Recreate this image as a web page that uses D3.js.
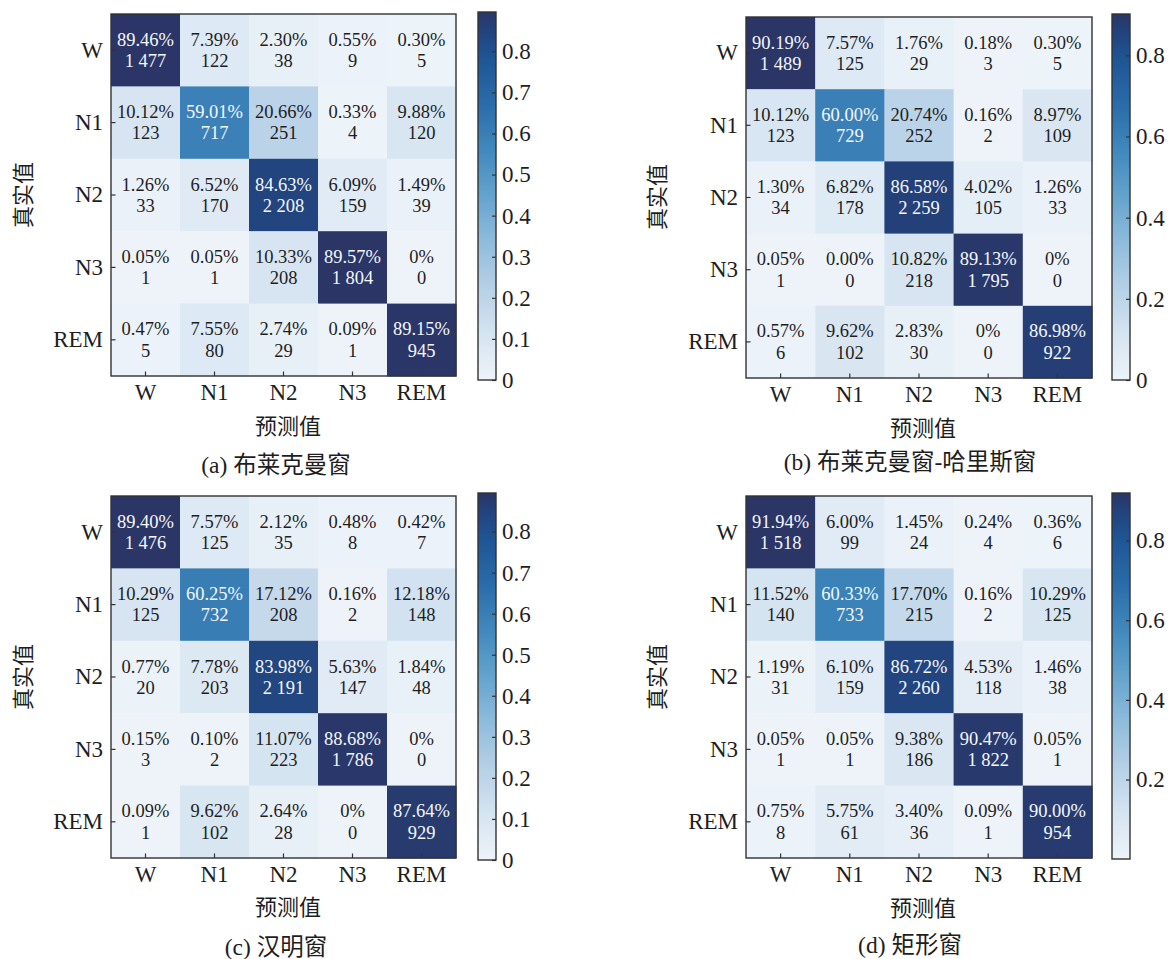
<!DOCTYPE html>
<html>
<head>
<meta charset="utf-8">
<script src="https://cdn.jsdelivr.net/npm/d3@7/dist/d3.min.js"></script>
<style>
  html, body { margin: 0; padding: 0; background: #fff; }
  svg { display: block; }
  .serif { font-family: "Liberation Serif", "Times New Roman", "Noto Sans CJK SC", serif; }
  .cjk { font-family: "Liberation Serif", "Noto Sans CJK SC", sans-serif; }
</style>
</head>
<body>
<svg id="fig" width="1170" height="959"></svg>
<script>
// Sleep stage classes (rows: true stage, columns: predicted stage)
const categories = ["W", "N1", "N2", "N3", "REM"];

// (a) Blackman window
const pctA = [
  ["89.46", "7.39", "2.30", "0.55", "0.30"],
  ["10.12", "59.01", "20.66", "0.33", "9.88"],
  ["1.26", "6.52", "84.63", "6.09", "1.49"],
  ["0.05", "0.05", "10.33", "89.57", "0"],
  ["0.47", "7.55", "2.74", "0.09", "89.15"]
];
const cntA = [
  [1477, 122, 38, 9, 5],
  [123, 717, 251, 4, 120],
  [33, 170, 2208, 159, 39],
  [1, 1, 208, 1804, 0],
  [5, 80, 29, 1, 945]
];

// (b) Blackman-Harris window
const pctB = [
  ["90.19", "7.57", "1.76", "0.18", "0.30"],
  ["10.12", "60.00", "20.74", "0.16", "8.97"],
  ["1.30", "6.82", "86.58", "4.02", "1.26"],
  ["0.05", "0.00", "10.82", "89.13", "0"],
  ["0.57", "9.62", "2.83", "0", "86.98"]
];
const cntB = [
  [1489, 125, 29, 3, 5],
  [123, 729, 252, 2, 109],
  [34, 178, 2259, 105, 33],
  [1, 0, 218, 1795, 0],
  [6, 102, 30, 0, 922]
];

// (c) Hamming window
const pctC = [
  ["89.40", "7.57", "2.12", "0.48", "0.42"],
  ["10.29", "60.25", "17.12", "0.16", "12.18"],
  ["0.77", "7.78", "83.98", "5.63", "1.84"],
  ["0.15", "0.10", "11.07", "88.68", "0"],
  ["0.09", "9.62", "2.64", "0", "87.64"]
];
const cntC = [
  [1476, 125, 35, 8, 7],
  [125, 732, 208, 2, 148],
  [20, 203, 2191, 147, 48],
  [3, 2, 223, 1786, 0],
  [1, 102, 28, 0, 929]
];

// (d) Rectangular window
const pctD = [
  ["91.94", "6.00", "1.45", "0.24", "0.36"],
  ["11.52", "60.33", "17.70", "0.16", "10.29"],
  ["1.19", "6.10", "86.72", "4.53", "1.46"],
  ["0.05", "0.05", "9.38", "90.47", "0.05"],
  ["0.75", "5.75", "3.40", "0.09", "90.00"]
];
const cntD = [
  [1518, 99, 24, 4, 6],
  [140, 733, 215, 2, 125],
  [31, 159, 2260, 118, 38],
  [1, 1, 186, 1822, 1],
  [8, 61, 36, 1, 954]
];

// Colorbar tick values
const cbTicksA = [0, 0.1, 0.2, 0.3, 0.4, 0.5, 0.6, 0.7, 0.8];
const cbTicksB = [0, 0.2, 0.4, 0.6, 0.8];
const cbTicksC = [0, 0.1, 0.2, 0.3, 0.4, 0.5, 0.6, 0.7, 0.8];
const cbTicksD = [0.2, 0.4, 0.6, 0.8];

const captions = ["(a) 布莱克曼窗", "(b) 布莱克曼窗-哈里斯窗", "(c) 汉明窗", "(d) 矩形窗"];
const xTitle = "预测值";
const yTitle = "真实值";

// Blue sequential ramp (position in [0,1] -> colour)
const rampPos = [0, 0.125, 0.25, 0.375, 0.5, 0.625, 0.75, 0.875, 0.95, 1];
const rampCol = ["#edf3f9", "#d5e4f1", "#b6d0e6", "#8fbcdc", "#64a3cd", "#4189bd",
                 "#2a6ca9", "#1f5595", "#22437d", "#2b3566"];
const ramp = d3.scaleLinear().domain(rampPos).range(rampCol).interpolate(d3.interpolateRgb).clamp(true);

const nf = d3.formatLocale({decimal: ".", thousands: " ", grouping: [3], currency: ["", ""]}).format(",d");
const cbFmt = d => d === 0 ? "0" : d3.format(".1f")(d);

const panels = [
  {pct: pctA, cnt: cntA, ticks: cbTicksA, cap: captions[0],
   box: {x0: 111, x1: 456, y0: 14, y1: 376}, cb: {x0: 478, x1: 496, y0: 12, y1: 380},
   ylab: [23, 195], xlab: [288, 426], capPos: [276, 465]},
  {pct: pctB, cnt: cntB, ticks: cbTicksB, cap: captions[1],
   box: {x0: 746, x1: 1092, y0: 17, y1: 378}, cb: {x0: 1112, x1: 1130, y0: 14, y1: 380},
   ylab: [657, 197], xlab: [923, 428], capPos: [910, 462]},
  {pct: pctC, cnt: cntC, ticks: cbTicksC, cap: captions[2],
   box: {x0: 111, x1: 456, y0: 496, y1: 858}, cb: {x0: 478, x1: 496, y0: 493, y1: 860},
   ylab: [23, 677], xlab: [288, 907], capPos: [276, 947]},
  {pct: pctD, cnt: cntD, ticks: cbTicksD, cap: captions[3],
   box: {x0: 746, x1: 1092, y0: 496, y1: 858}, cb: {x0: 1112, x1: 1130, y0: 493, y1: 859},
   ylab: [657, 677], xlab: [923, 908], capPos: [910, 945]}
];

const svg = d3.select("#fig");
svg.append("rect").attr("width", 1170).attr("height", 959).attr("fill", "#fff");
const defs = svg.append("defs");

panels.forEach((p, pi) => {
  const cells = [];
  p.pct.forEach((row, i) => row.forEach((s, j) => {
    cells.push({r: categories[i], c: categories[j], v: +s / 100, label: s + "%", n: p.cnt[i][j]});
  }));
  const vmin = d3.min(cells, d => d.v);
  const vmax = d3.max(cells, d => d.v);
  const color = v => ramp((v - vmin) / (vmax - vmin));
  const thresh = (vmin + vmax) / 2;

  const x = d3.scaleBand().domain(categories).range([p.box.x0, p.box.x1]);
  const y = d3.scaleBand().domain(categories).range([p.box.y0, p.box.y1]);

  const g = svg.append("g");

  // heatmap cells
  g.selectAll("rect.cell").data(cells).join("rect")
    .attr("class", "cell")
    .attr("x", d => x(d.c)).attr("y", d => y(d.r))
    .attr("width", x.bandwidth() + 0.5).attr("height", y.bandwidth() + 0.5)
    .attr("fill", d => color(d.v));

  // cell annotations: percentage and count
  const txt = g.selectAll("text.val").data(cells).join("text")
    .attr("class", "serif val")
    .attr("text-anchor", "middle")
    .attr("font-size", 18.5)
    .attr("fill", d => d.v > thresh ? "#f4f7fb" : "#1e1e1e");
  txt.append("tspan")
    .attr("x", d => x(d.c) + x.bandwidth() / 2)
    .attr("y", d => y(d.r) + y.bandwidth() / 2 - 4.5)
    .text(d => d.label);
  txt.append("tspan")
    .attr("x", d => x(d.c) + x.bandwidth() / 2)
    .attr("y", d => y(d.r) + y.bandwidth() / 2 + 16.8)
    .text(d => nf(d.n));

  // axes with inward ticks
  const ax = g.append("g").attr("transform", `translate(0,${p.box.y1})`)
    .call(d3.axisBottom(x).tickSize(-4.5).tickPadding(7.5).tickSizeOuter(0));
  const ay = g.append("g").attr("transform", `translate(${p.box.x0},0)`)
    .call(d3.axisLeft(y).tickSize(-4.5).tickPadding(8).tickSizeOuter(0));
  [ax, ay].forEach(a => {
    a.select(".domain").remove();
    a.selectAll(".tick line").attr("stroke", "#333").attr("stroke-width", 1.2);
    a.selectAll(".tick text").attr("class", "serif").attr("font-size", 23).attr("fill", "#1e1e1e");
  });

  // frame
  g.append("rect")
    .attr("x", p.box.x0).attr("y", p.box.y0)
    .attr("width", p.box.x1 - p.box.x0).attr("height", p.box.y1 - p.box.y0)
    .attr("fill", "none").attr("stroke", "#333").attr("stroke-width", 1.4);

  // colorbar
  const gid = "cbgrad" + pi;
  const grad = defs.append("linearGradient").attr("id", gid)
    .attr("x1", 0).attr("y1", 1).attr("x2", 0).attr("y2", 0);
  d3.range(0, 1.0001, 0.02).forEach(t => {
    grad.append("stop").attr("offset", t).attr("stop-color", ramp(t));
  });
  g.append("rect")
    .attr("x", p.cb.x0).attr("y", p.cb.y0)
    .attr("width", p.cb.x1 - p.cb.x0).attr("height", p.cb.y1 - p.cb.y0)
    .attr("fill", `url(#${gid})`);
  const cbScale = d3.scaleLinear().domain([vmin, vmax]).range([p.cb.y1, p.cb.y0]);
  const cax = g.append("g").attr("transform", `translate(${p.cb.x1},0)`)
    .call(d3.axisRight(cbScale).tickValues(p.ticks).tickFormat(cbFmt)
      .tickSize(-4).tickPadding(6).tickSizeOuter(0));
  cax.select(".domain").remove();
  cax.selectAll(".tick line").attr("stroke", "#333").attr("stroke-width", 1.2);
  cax.selectAll(".tick text").attr("class", "serif").attr("font-size", 23).attr("fill", "#1e1e1e");
  g.append("rect")
    .attr("x", p.cb.x0).attr("y", p.cb.y0)
    .attr("width", p.cb.x1 - p.cb.x0).attr("height", p.cb.y1 - p.cb.y0)
    .attr("fill", "none").attr("stroke", "#333").attr("stroke-width", 1.4);

  // axis titles and caption
  g.append("text").attr("class", "cjk")
    .attr("x", p.xlab[0]).attr("y", p.xlab[1])
    .attr("text-anchor", "middle").attr("dominant-baseline", "central")
    .attr("font-size", 22).attr("fill", "#1e1e1e").text(xTitle);
  g.append("text").attr("class", "cjk")
    .attr("transform", `translate(${p.ylab[0]},${p.ylab[1]}) rotate(-90)`)
    .attr("text-anchor", "middle").attr("dominant-baseline", "central")
    .attr("font-size", 22).attr("fill", "#1e1e1e").text(yTitle);
  g.append("text").attr("class", "cjk")
    .attr("x", p.capPos[0]).attr("y", p.capPos[1])
    .attr("text-anchor", "middle").attr("dominant-baseline", "central")
    .attr("font-size", 23.5).attr("fill", "#1e1e1e").text(p.cap);
});
</script>
</body>
</html>
